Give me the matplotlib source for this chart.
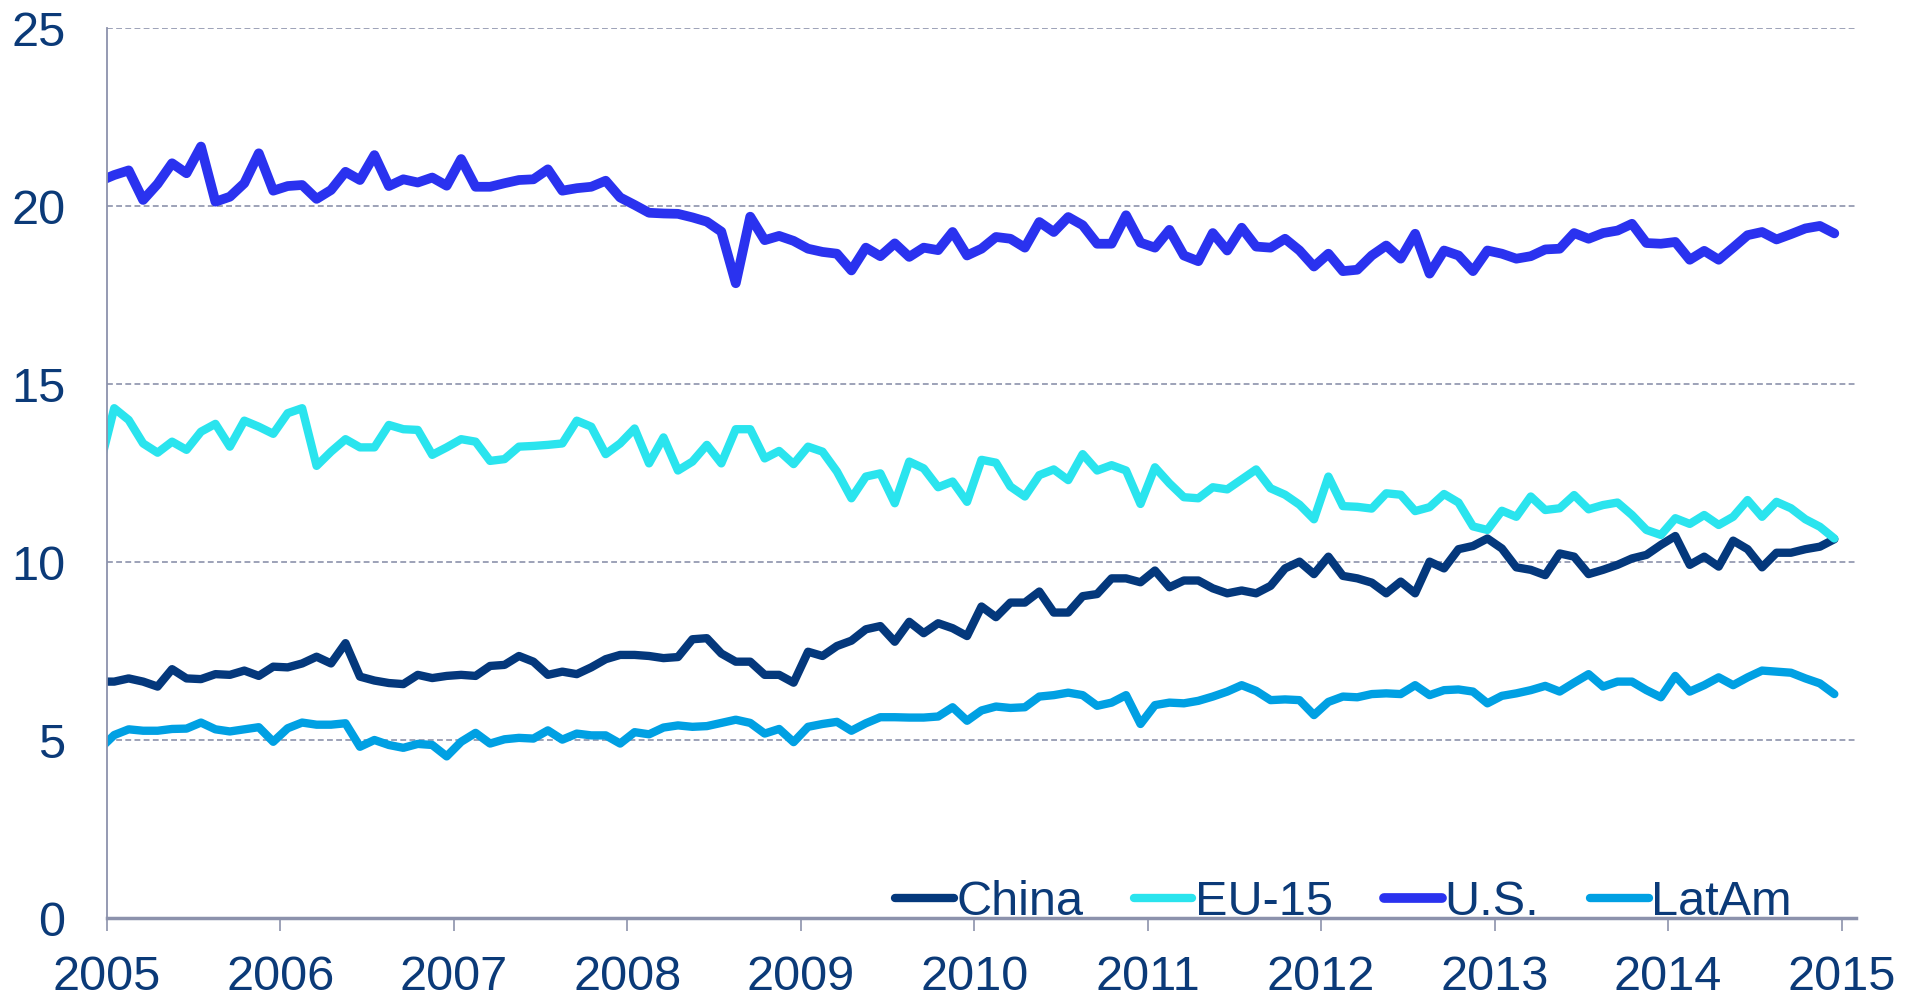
import numpy as np
import matplotlib

matplotlib.use("Agg")
import matplotlib.pyplot as plt  # noqa: E402

# Monthly series, Dec 2004 .. Dec 2014 (first value sits just left of the axis)
china = [6.64,
         6.64, 6.73, 6.64, 6.50, 6.99, 6.73, 6.71, 6.85, 6.83, 6.95, 6.80, 7.06,
         7.04, 7.15, 7.34, 7.15, 7.72, 6.78, 6.67, 6.60, 6.57, 6.83, 6.74, 6.80,
         6.83, 6.80, 7.08, 7.11, 7.36, 7.20, 6.83, 6.92, 6.85, 7.04, 7.27, 7.39,
         7.39, 7.36, 7.30, 7.33, 7.83, 7.86, 7.43, 7.20, 7.20, 6.83, 6.83, 6.61,
         7.48, 7.36, 7.64, 7.79, 8.11, 8.20, 7.76, 8.32, 8.00, 8.28, 8.14, 7.92,
         8.75, 8.45, 8.86, 8.86, 9.17, 8.58, 8.58, 9.04, 9.10, 9.54, 9.54, 9.43,
         9.76, 9.29, 9.48, 9.48, 9.26, 9.12, 9.20, 9.12, 9.33, 9.82, 10.01, 9.66,
         10.15, 9.61, 9.54, 9.42, 9.12, 9.45, 9.12, 10.01, 9.82, 10.36, 10.45, 10.66,
         10.38, 9.85, 9.78, 9.63, 10.24, 10.15, 9.66, 9.78, 9.92, 10.10, 10.20, 10.48,
         10.73, 9.92, 10.15, 9.87, 10.60, 10.36, 9.85, 10.26, 10.26, 10.36, 10.43, 10.64]

eu15 = [12.70,
        14.32, 13.99, 13.33, 13.07, 13.38, 13.15, 13.66, 13.88, 13.24, 13.97, 13.80, 13.60,
        14.18, 14.32, 12.70, 13.10, 13.45, 13.22, 13.22, 13.85, 13.73, 13.71, 13.01, 13.22,
        13.45, 13.38, 12.84, 12.89, 13.24, 13.26, 13.29, 13.33, 13.97, 13.80, 13.03, 13.33,
        13.75, 12.77, 13.50, 12.57, 12.82, 13.29, 12.77, 13.73, 13.73, 12.91, 13.12, 12.75,
        13.24, 13.10, 12.54, 11.79, 12.40, 12.49, 11.65, 12.82, 12.63, 12.10, 12.26, 11.69,
        12.87, 12.79, 12.12, 11.84, 12.44, 12.60, 12.30, 13.03, 12.57, 12.72, 12.57, 11.63,
        12.66, 12.21, 11.82, 11.79, 12.10, 12.04, 12.32, 12.60, 12.07, 11.89, 11.61, 11.20,
        12.40, 11.57, 11.55, 11.50, 11.93, 11.89, 11.43, 11.54, 11.91, 11.67, 11.00, 10.90,
        11.44, 11.27, 11.84, 11.46, 11.51, 11.88, 11.48, 11.60, 11.67, 11.32, 10.90, 10.76,
        11.23, 11.07, 11.32, 11.04, 11.27, 11.74, 11.27, 11.69, 11.51, 11.20, 10.99, 10.66]

us = [20.70,
      20.87, 21.00, 20.17, 20.62, 21.20, 20.92, 21.67, 20.12, 20.26, 20.64, 21.48, 20.43,
      20.56, 20.59, 20.20, 20.45, 20.96, 20.73, 21.43, 20.56, 20.75, 20.66, 20.80, 20.57,
      21.32, 20.54, 20.54, 20.64, 20.73, 20.75, 21.03, 20.43, 20.50, 20.54, 20.71, 20.24,
      20.03, 19.81, 19.79, 19.78, 19.68, 19.56, 19.28, 17.83, 19.70, 19.04, 19.16, 19.02,
      18.80, 18.71, 18.66, 18.19, 18.83, 18.59, 18.95, 18.57, 18.83, 18.76, 19.27, 18.61,
      18.80, 19.13, 19.08, 18.83, 19.55, 19.27, 19.69, 19.46, 18.94, 18.94, 19.74, 18.97,
      18.83, 19.33, 18.61, 18.45, 19.24, 18.75, 19.39, 18.86, 18.83, 19.08, 18.75, 18.30,
      18.66, 18.17, 18.21, 18.61, 18.89, 18.52, 19.22, 18.10, 18.75, 18.61, 18.17, 18.75,
      18.66, 18.52, 18.59, 18.78, 18.80, 19.24, 19.08, 19.24, 19.31, 19.50, 18.96, 18.94,
      18.99, 18.49, 18.74, 18.49, 18.83, 19.18, 19.27, 19.06, 19.21, 19.37, 19.44, 19.23]

latam = [4.75,
         5.14, 5.30, 5.26, 5.26, 5.31, 5.32, 5.49, 5.30, 5.24, 5.30, 5.36, 4.95,
         5.33, 5.49, 5.43, 5.43, 5.47, 4.81, 5.00, 4.86, 4.78, 4.89, 4.86, 4.54,
         4.95, 5.20, 4.90, 5.02, 5.06, 5.04, 5.27, 5.01, 5.18, 5.13, 5.13, 4.90,
         5.22, 5.16, 5.35, 5.41, 5.37, 5.39, 5.48, 5.57, 5.48, 5.18, 5.31, 4.94,
         5.37, 5.45, 5.51, 5.26, 5.47, 5.64, 5.64, 5.63, 5.63, 5.66, 5.92, 5.54,
         5.83, 5.94, 5.90, 5.92, 6.22, 6.26, 6.33, 6.26, 5.96, 6.05, 6.26, 5.45,
         5.98, 6.05, 6.03, 6.10, 6.22, 6.36, 6.54, 6.38, 6.12, 6.14, 6.12, 5.70,
         6.07, 6.22, 6.20, 6.29, 6.31, 6.29, 6.54, 6.26, 6.40, 6.42, 6.36, 6.03,
         6.24, 6.31, 6.40, 6.52, 6.36, 6.61, 6.85, 6.50, 6.64, 6.64, 6.40, 6.20,
         6.80, 6.36, 6.54, 6.76, 6.54, 6.76, 6.95, 6.92, 6.89, 6.73, 6.59, 6.29]

years = list(range(2005, 2016))
y_ticks = [0, 5, 10, 15, 20, 25]

# mid-month positions in fractional years, starting Dec 2004
months = np.arange(-1, len(china) - 1)
x = 2005 + (months + 0.5) / 12

TEXT = "#0B3A78"
AXIS = "#8C92AC"
FS = 35

plt.rcParams["font.family"] = ["Liberation Sans", "DejaVu Sans"]

fig = plt.figure(figsize=(19.25, 9.99), dpi=100)
ax = fig.add_axes([107 / 1925, 81 / 999, 1749 / 1925, 890 / 999])

series = [
    ("China", china, "#04387C", 6.0),
    ("EU-15", eu15, "#2AE4EE", 6.0),
    ("U.S.", us, "#2A32EF", 7.0),
    ("LatAm", latam, "#00A0E3", 6.0),
]
for label, vals, color, lw in series:
    ax.plot(x, vals, color=color, lw=lw, label=label,
            solid_capstyle="round", solid_joinstyle="round")

ax.set_xlim(2005, 2015 + 1 / 12)
ax.set_ylim(0, 25)
ax.set_xticks(years)
ax.set_xticklabels([str(y) for y in years])
ax.set_yticks(y_ticks)

ax.grid(axis="y", color=AXIS, ls=(0, (3.5, 2)), lw=1.2)
ax.set_axisbelow(True)
for side in ("top", "right"):
    ax.spines[side].set_visible(False)
ax.spines["left"].set_color(AXIS)
ax.spines["left"].set_linewidth(1.3)
ax.spines["bottom"].set_color(AXIS)
ax.spines["bottom"].set_linewidth(2.5)

ax.tick_params(axis="x", length=9, width=1.2, color=AXIS, labelsize=FS,
               labelcolor=TEXT, pad=18)
ax.tick_params(axis="y", length=0, labelsize=FS, labelcolor=TEXT, pad=30)

leg = ax.legend(loc="center", bbox_to_anchor=(0.707, 0.017), ncol=4,
                frameon=False, fontsize=FS, handlelength=1.2,
                handletextpad=0.05, columnspacing=1.05, borderpad=0,
                borderaxespad=0)
for text in leg.get_texts():
    text.set_color(TEXT)

fig.savefig("out.png", dpi=100)
